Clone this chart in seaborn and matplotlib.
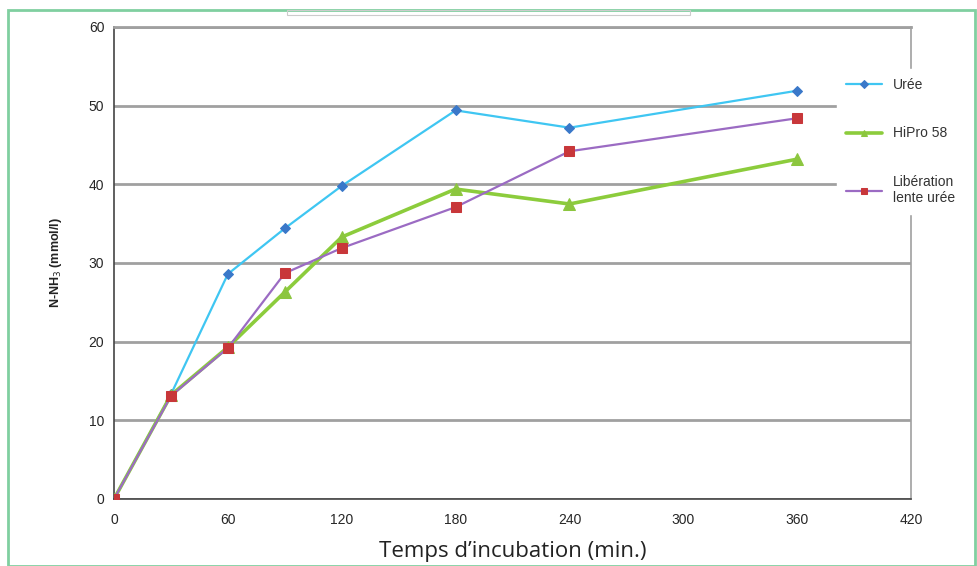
import pandas as pd
import numpy as np
import seaborn as sns
import matplotlib.pyplot as plt
from matplotlib.patches import Rectangle

# Temps d'incubation (min.)
temps = [0, 30, 60, 90, 120, 180, 240, 360]

# N-NH3 (mmol/l) par traitement
uree = [0, 13.3, 28.6, 34.4, 39.8, 49.4, 47.2, 51.9]
hipro = [0, 13.2, 19.3, 26.3, 33.3, 39.4, 37.5, 43.2]
liberation = [0, 13.1, 19.2, 28.7, 31.9, 37.1, 44.2, 48.4]

series_names = ["Urée", "HiPro 58", "Libération\nlente urée"]
x_ticks = [0, 60, 120, 180, 240, 300, 360, 420]
y_ticks = [0, 10, 20, 30, 40, 50, 60]

df = pd.DataFrame({"Temps": temps * 3,
                   "NH3": uree + hipro + liberation,
                   "Serie": np.repeat(series_names, len(temps))})

sns.set_style("white")
plt.rcParams["font.family"] = ["Liberation Sans", "DejaVu Sans"]

fig = plt.figure(figsize=(9.78, 5.66), dpi=100)
ax = fig.add_axes([0.1166, 0.1184, 0.8149, 0.8339])

# styles: (couleur ligne, marqueur, couleur marqueur, taille, epaisseur)
styles = {
    "Urée": ("#3fc6f2", "D", "#3a78c9", 5, 1.6),
    "HiPro 58": ("#8ccc3c", "^", "#8cc63f", 9, 2.6),
    "Libération\nlente urée": ("#9b6bc3", "s", "#c8373a", 7, 1.6),
}

for name in series_names:
    lc, mk, mc, ms, lw = styles[name]
    sub = df[df["Serie"] == name]
    sns.lineplot(x="Temps", y="NH3", data=sub, ax=ax, color=lc, linewidth=lw,
                 marker=mk, markersize=ms, markerfacecolor=mc, markeredgecolor=mc,
                 label=name, zorder=3)

ax.set_xlim(0, 420)
ax.set_ylim(0, 60)
ax.set_xticks(x_ticks)
ax.set_yticks(y_ticks)
ax.tick_params(axis="both", labelsize=10, direction="out", length=4, width=1,
               color="#555555", pad=3)
ax.tick_params(axis="x", pad=6)
ax.yaxis.grid(True, color="#a0a0a0", linewidth=2)
ax.xaxis.grid(False)
for side in ["left", "bottom"]:
    ax.spines[side].set_color("#444444")
    ax.spines[side].set_linewidth(1.2)
ax.spines["right"].set_color("#a0a0a0")
ax.spines["right"].set_linewidth(1.2)
ax.spines["top"].set_color("#a0a0a0")
ax.spines["top"].set_linewidth(2)

ax.set_xlabel("Temps d\u2019incubation (min.)", fontsize=16, family=["Open Sans", "DejaVu Sans"],
              color="#222222", labelpad=4)
ax.set_ylabel("N-NH$_3$ (mmol/l)", fontsize=9, fontweight="bold", color="#222222", labelpad=18)
ax.xaxis.set_label_coords(0.5, -0.09)

leg = ax.legend(loc="upper left", bbox_to_anchor=(0.899, 0.925), frameon=True,
                facecolor="white", edgecolor="white", framealpha=1, fontsize=10,
                labelspacing=2.5, handlelength=2.6, borderpad=0.6)
leg.set_zorder(5)
for h in leg.legend_handles:
    h.set_markersize(4.5)
for t in leg.get_texts():
    t.set_color("#333333")

# cadre vert de la figure et boite du titre
fig.add_artist(Rectangle((8 / 978, 0), 967 / 978, 1 - 10 / 566, transform=fig.transFigure,
                         fill=False, edgecolor="#80cfa0", linewidth=2))
fig.add_artist(Rectangle((287 / 978, 1 - 15 / 566), 403 / 978, 5 / 566, transform=fig.transFigure,
                         fill=False, edgecolor="#cccccc", linewidth=0.8))

fig.savefig("out.png", dpi=100)
